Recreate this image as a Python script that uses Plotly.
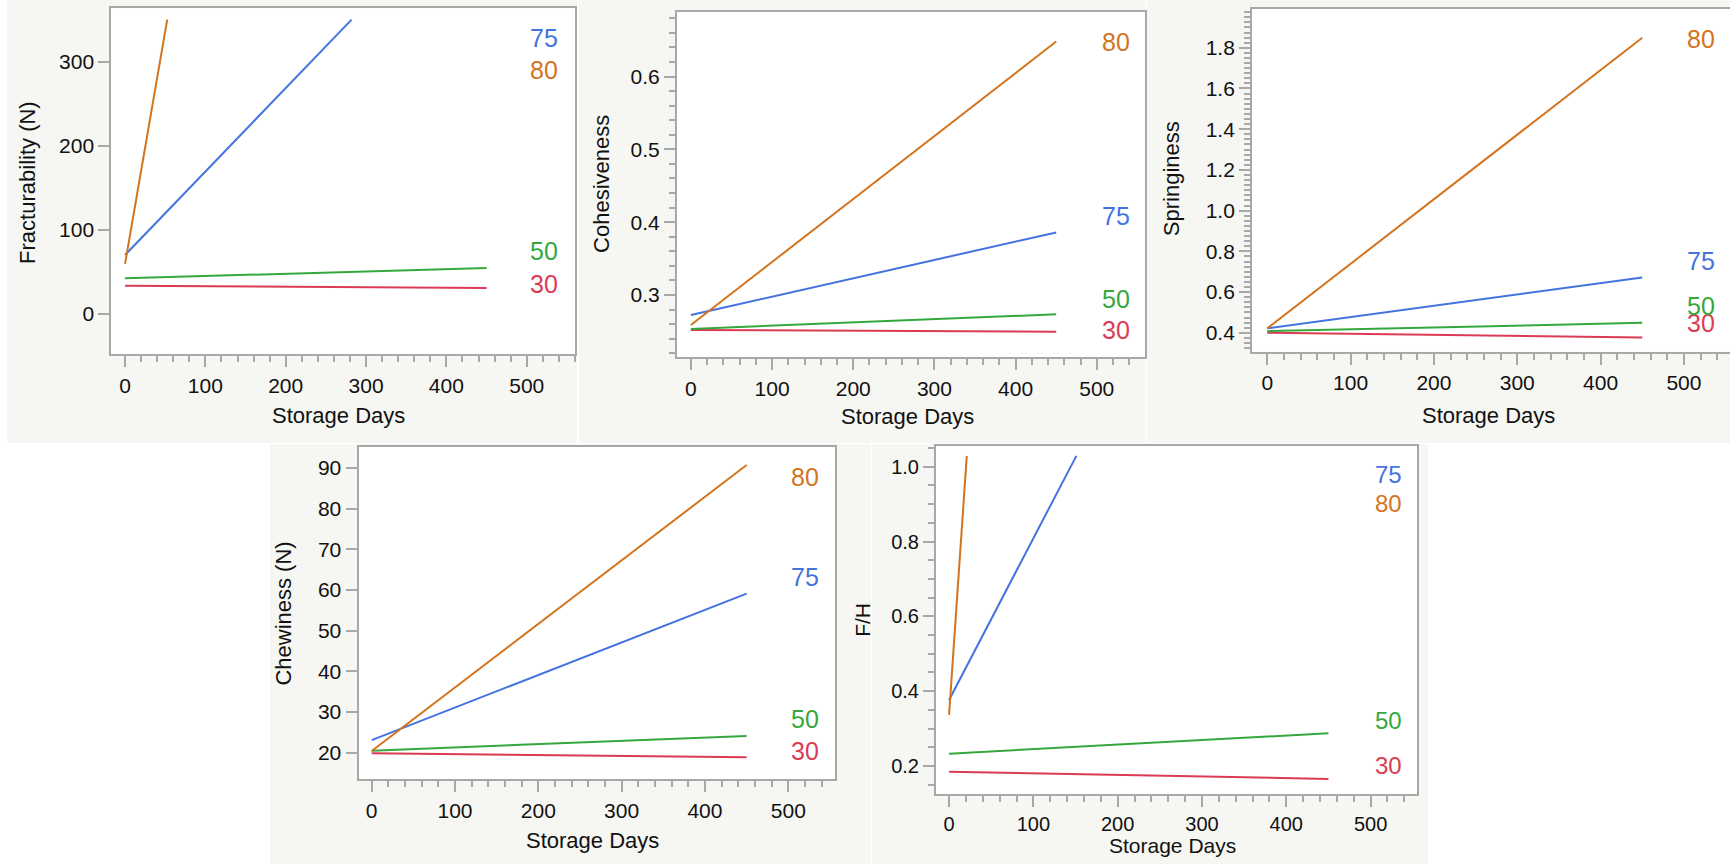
import plotly.graph_objects as go

W, H = 1730, 864

temps = ["30", "50", "75", "80"]
line_colors = ["#dc3b55", "#35a83d", "#4473e0", "#d4741f"]

# Fitted lines: value at day 0 and at the last drawn day
frac_start = [33.7, 42.4, 70.2, 59.6]
frac_stop = [31.0, 54.8, 350.0, 350.0]
frac_stop_day = [450, 450, 282, 52.5]

coh_start = [0.2519, 0.2533, 0.2725, 0.2588]
coh_stop = [0.2496, 0.2735, 0.3859, 0.648]
coh_stop_day = [450, 450, 450, 450]

spr_start = [0.400, 0.408, 0.4216, 0.4216]
spr_stop = [0.377, 0.449, 0.672, 1.849]
spr_stop_day = [450, 450, 450, 450]

chew_start = [19.85, 20.5, 23.1, 20.4]
chew_stop = [18.9, 24.1, 59.1, 90.7]
chew_stop_day = [450, 450, 450, 450]

fh_start = [0.1848, 0.2329, 0.3765, 0.3364]
fh_stop = [0.1652, 0.2874, 1.029, 1.029]
fh_stop_day = [450, 450, 151, 21]

x_title = "Storage Days"

FONT = "Liberation Sans, Arial, Helvetica, sans-serif"
BG = "#f6f6f2"
FRAME = "#a8a8a8"

# Panel geometry in pixels and axis settings
panels = [
    dict(title="Fracturability (N)", start=frac_start, stop=frac_stop, stop_day=frac_stop_day,
         px=(111.3, 575.0), py=(8.3, 354.3), xr=[-17.1, 560.1], yr=[-47.9, 363.5],
         dtick=100, minor=None, fmt="d", bg=(7, 0, 577, 443),
         ytitle_xy=(27.6, 182.3), xtitle_xy=(338.6, 415), label_day=521.5,
         label_y=[35.8, 75.5, 328.5, 290.1], fs=21, lfs=25),
    dict(title="Cohesiveness", start=coh_start, stop=coh_stop, stop_day=coh_stop_day,
         px=(676.9, 1144.5), py=(11.7, 357.3), xr=[-17.2, 558.8], yr=[0.2144, 0.689],
         dtick=0.1, minor=0.02, fmt=".1f", bg=(579, 0, 1146, 443),
         ytitle_xy=(600.7, 184.2), xtitle_xy=(907, 416.7), label_day=523.5,
         label_y=[0.252, 0.294, 0.4087, 0.648], fs=21, lfs=25),
    dict(title="Springiness", start=spr_start, stop=spr_stop, stop_day=spr_stop_day,
         px=(1252.1, 1730.0), py=(9.3, 351.7), xr=[-18.2, 555.3], yr=[0.307, 1.989],
         dtick=0.2, minor=0.025, fmt=".1f", bg=(1147, 0, 1730, 443),
         ytitle_xy=(1171, 179.2), xtitle_xy=(1488.7, 415), label_day=520.5,
         label_y=[0.449, 0.531, 0.754, 1.841], fs=21, lfs=25, open_right=True),
    dict(title="Chewiness (N)", start=chew_start, stop=chew_stop, stop_day=chew_stop_day,
         px=(358.5, 835.2), py=(446.7, 779.3), xr=[-15.8, 556.3], yr=[13.46, 95.2],
         dtick=10, minor=None, fmt="d", bg=(270, 444, 871, 864),
         ytitle_xy=(283.3, 613.3), xtitle_xy=(592.6, 840), label_day=520.3,
         label_y=[20.4, 28.2, 63.2, 87.8], fs=21, lfs=25),
    dict(title="F/H", start=fh_start, stop=fh_stop, stop_day=fh_stop_day,
         px=(936.0, 1416.8), py=(446.0, 794.0), xr=[-15.5, 554.8], yr=[0.125, 1.0553],
         dtick=0.2, minor=0.05, fmt=".1f", bg=(872, 444, 1428, 864),
         ytitle_xy=(861.8, 620), xtitle_xy=(1172.6, 845), label_day=520.9,
         label_y=[0.2, 0.3227, 0.978, 0.902], fs=20, lfs=24),
]

fig = go.Figure()
shapes = []
annotations = []
layout_axes = {}

for i, p in enumerate(panels, start=1):
    sfx = "" if i == 1 else str(i)
    xa, ya = "x" + sfx, "y" + sfx

    # panel background and white plotting area
    bx0, by0, bx1, by1 = p["bg"]
    shapes.append(dict(type="rect", xref="paper", yref="paper", layer="below",
                       x0=bx0 / W, x1=bx1 / W, y0=1 - by1 / H, y1=1 - by0 / H,
                       fillcolor=BG, line=dict(width=0)))
    shapes.append(dict(type="rect", xref="paper", yref="paper", layer="below",
                       x0=p["px"][0] / W, x1=p["px"][1] / W,
                       y0=1 - p["py"][1] / H, y1=1 - p["py"][0] / H,
                       fillcolor="white", line=dict(width=0)))

    for k in range(len(temps)):
        fig.add_trace(go.Scatter(
            x=[0, p["stop_day"][k]], y=[p["start"][k], p["stop"][k]],
            mode="lines", line=dict(color=line_colors[k], width=2),
            xaxis=xa, yaxis=ya, showlegend=False, cliponaxis=True,
            hoverinfo="skip"))
        annotations.append(dict(
            x=p["label_day"], y=p["label_y"][k], xref=xa, yref=ya,
            text=temps[k], showarrow=False, xanchor="center", yanchor="middle",
            font=dict(family=FONT, size=p["lfs"], color=line_colors[k])))

    tickfont = dict(family=FONT, size=p["fs"], color="#111111")
    xaxis = dict(
        domain=[p["px"][0] / W, min(p["px"][1] / W, 1.0)], range=p["xr"],
        anchor=ya, showline=True, linecolor=FRAME, linewidth=2,
        mirror=True, ticks="outside", ticklen=11, tickwidth=2, tickcolor=FRAME,
        tick0=0, dtick=100, tickfont=tickfont, showgrid=False, zeroline=False,
        minor=dict(dtick=20, tick0=0, ticks="outside", ticklen=6, tickwidth=2,
                   tickcolor=FRAME, showgrid=False),
    )
    yaxis = dict(
        domain=[1 - p["py"][1] / H, 1 - p["py"][0] / H], range=p["yr"],
        anchor=xa, showline=True, linecolor=FRAME, linewidth=2,
        mirror=not p.get("open_right", False),
        ticks="outside", ticklen=11, tickwidth=2, tickcolor=FRAME,
        tick0=0, dtick=p["dtick"], tickformat=p["fmt"], tickfont=tickfont,
        showgrid=False, zeroline=False,
    )
    if p["minor"]:
        yaxis["minor"] = dict(dtick=p["minor"], tick0=0, ticks="outside", ticklen=6,
                              tickwidth=2, tickcolor=FRAME, showgrid=False)
    layout_axes["xaxis" + sfx] = xaxis
    layout_axes["yaxis" + sfx] = yaxis

    # axis titles
    tx, ty = p["ytitle_xy"]
    annotations.append(dict(x=tx / W, y=1 - ty / H, xref="paper", yref="paper",
                            text=p["title"], textangle=-90, showarrow=False,
                            xanchor="center", yanchor="middle",
                            font=dict(family=FONT, size=p["fs"] + 1, color="#111111")))
    tx, ty = p["xtitle_xy"]
    annotations.append(dict(x=tx / W, y=1 - ty / H, xref="paper", yref="paper",
                            text=x_title, showarrow=False,
                            xanchor="center", yanchor="middle",
                            font=dict(family=FONT, size=p["fs"] + 1, color="#111111")))

fig.update_layout(
    width=W, height=H, autosize=False,
    margin=dict(l=0, r=0, t=0, b=0),
    paper_bgcolor="white", plot_bgcolor="rgba(0,0,0,0)",
    shapes=shapes, annotations=annotations, showlegend=False,
    **layout_axes,
)

fig.write_html("out.html")
